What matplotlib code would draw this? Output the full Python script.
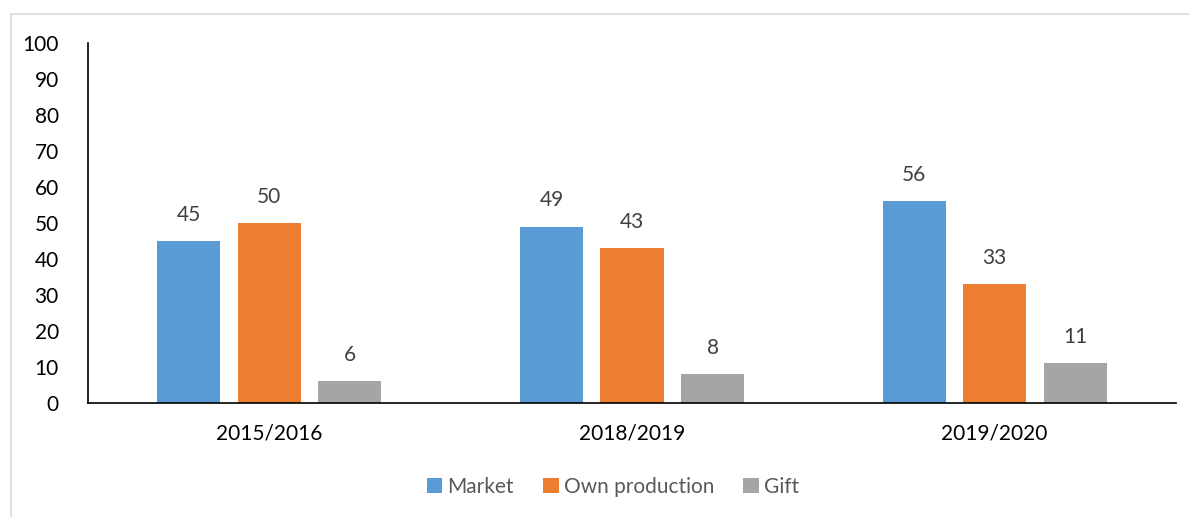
import numpy as np
import matplotlib.pyplot as plt
from matplotlib.patches import Rectangle

plt.rcParams['font.family'] = ['Lato', 'DejaVu Sans']

seasons = ['2015/2016', '2018/2019', '2019/2020']
market = [45, 49, 56]
own_production = [50, 43, 33]
gift = [6, 8, 11]

series = [('Market', market, '#5B9BD5'),
          ('Own production', own_production, '#ED7D31'),
          ('Gift', gift, '#A5A5A5')]

fig = plt.figure(figsize=(11.89, 5.17), dpi=100)
ax = fig.add_axes([88 / 1189, 1 - 403 / 517, (1176 - 88) / 1189, 360 / 517])

# light frame around the chart area
fig.patches.append(Rectangle((11 / 1189, -0.1), 1.2, (517 - 14) / 517 + 0.1,
                             transform=fig.transFigure, fill=False,
                             edgecolor='#d9d9d9', linewidth=1.2))

x = np.arange(len(seasons))
width = 0.174
step = 0.222
for i, (name, vals, color) in enumerate(series):
    pos = x + (i - 1) * step
    bars = ax.bar(pos, vals, width, color=color, label=name)
    for b, v in zip(bars, vals):
        ax.annotate(str(v), (b.get_x() + b.get_width() / 2, v),
                    xytext=(0, 19), textcoords='offset points',
                    ha='center', va='center', fontsize=15, color='#404040')

ax.set_xlim(-0.5, 2.5)
ax.set_ylim(0, 100)
ax.set_yticks(range(0, 101, 10))
ax.set_xticks(x)
ax.set_xticklabels(seasons)
ax.tick_params(axis='both', length=0, labelsize=15, colors='black')
ax.tick_params(axis='y', pad=21)
ax.tick_params(axis='x', pad=15)
for s in ['top', 'right']:
    ax.spines[s].set_visible(False)
ax.spines['left'].set_color('black')
ax.spines['bottom'].set_color('black')
ax.spines['left'].set_linewidth(1.2)
ax.spines['bottom'].set_linewidth(1.2)

leg = fig.legend(loc='center', bbox_to_anchor=(613 / 1189, 1 - 487 / 517),
                 ncol=3, frameon=False, fontsize=15, handlelength=0.75,
                 handleheight=0.75, handletextpad=0.25, columnspacing=1.4)
for t in leg.get_texts():
    t.set_color('#595959')

fig.savefig('out.png', dpi=100)
